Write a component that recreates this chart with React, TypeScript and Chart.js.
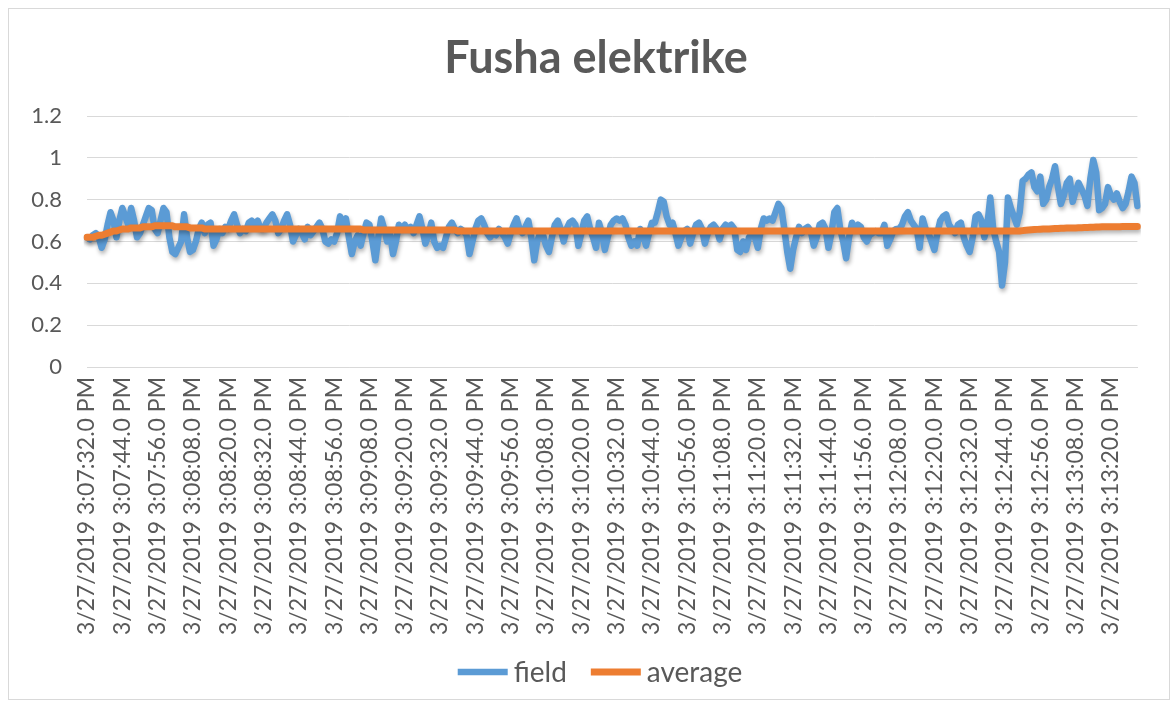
import React, { useEffect, useRef } from "react";
import { Chart, registerables } from "chart.js";

Chart.register(...registerables);

const chartTitle = "Fusha elektrike";

const tickLabels = [
  "3/27/2019 3:07:32.0 PM", "3/27/2019 3:07:44.0 PM", "3/27/2019 3:07:56.0 PM",
  "3/27/2019 3:08:08.0 PM", "3/27/2019 3:08:20.0 PM", "3/27/2019 3:08:32.0 PM",
  "3/27/2019 3:08:44.0 PM", "3/27/2019 3:08:56.0 PM", "3/27/2019 3:09:08.0 PM",
  "3/27/2019 3:09:20.0 PM", "3/27/2019 3:09:32.0 PM", "3/27/2019 3:09:44.0 PM",
  "3/27/2019 3:09:56.0 PM", "3/27/2019 3:10:08.0 PM", "3/27/2019 3:10:20.0 PM",
  "3/27/2019 3:10:32.0 PM", "3/27/2019 3:10:44.0 PM", "3/27/2019 3:10:56.0 PM",
  "3/27/2019 3:11:08.0 PM", "3/27/2019 3:11:20.0 PM", "3/27/2019 3:11:32.0 PM",
  "3/27/2019 3:11:44.0 PM", "3/27/2019 3:11:56.0 PM", "3/27/2019 3:12:08.0 PM",
  "3/27/2019 3:12:20.0 PM", "3/27/2019 3:12:32.0 PM", "3/27/2019 3:12:44.0 PM",
  "3/27/2019 3:12:56.0 PM", "3/27/2019 3:13:08.0 PM", "3/27/2019 3:13:20.0 PM",
];

const labelEvery = 12;

const fieldValues = [
  0.62, 0.61, 0.63, 0.64, 0.62, 0.57, 0.61, 0.68, 0.74, 0.70, 0.62, 0.70,
  0.76, 0.72, 0.68, 0.76, 0.70, 0.62, 0.64, 0.68, 0.72, 0.76, 0.75, 0.66,
  0.64, 0.70, 0.76, 0.74, 0.62, 0.55, 0.54, 0.57, 0.60, 0.73, 0.62, 0.55,
  0.56, 0.60, 0.66, 0.69, 0.64, 0.68, 0.69, 0.58, 0.61, 0.66, 0.64, 0.67,
  0.66, 0.70, 0.73, 0.68, 0.64, 0.66, 0.65, 0.69, 0.70, 0.68, 0.70, 0.66,
  0.66, 0.69, 0.71, 0.73, 0.70, 0.64, 0.66, 0.70, 0.73, 0.68, 0.60, 0.63,
  0.66, 0.64, 0.61, 0.67, 0.63, 0.65, 0.67, 0.69, 0.66, 0.60, 0.59, 0.61,
  0.60, 0.64, 0.72, 0.68, 0.71, 0.62, 0.54, 0.60, 0.63, 0.58, 0.64, 0.69,
  0.68, 0.60, 0.51, 0.62, 0.71, 0.66, 0.60, 0.64, 0.54, 0.60, 0.68, 0.66,
  0.68, 0.66, 0.67, 0.64, 0.68, 0.72, 0.66, 0.59, 0.63, 0.69, 0.60, 0.57,
  0.58, 0.57, 0.62, 0.67, 0.69, 0.66, 0.64, 0.66, 0.65, 0.63, 0.54, 0.60,
  0.66, 0.70, 0.71, 0.68, 0.64, 0.62, 0.64, 0.63, 0.66, 0.64, 0.62, 0.59,
  0.64, 0.68, 0.71, 0.66, 0.64, 0.67, 0.70, 0.62, 0.51, 0.60, 0.64, 0.63,
  0.58, 0.55, 0.62, 0.68, 0.70, 0.66, 0.60, 0.66, 0.69, 0.70, 0.68, 0.58,
  0.64, 0.70, 0.72, 0.66, 0.62, 0.57, 0.69, 0.64, 0.56, 0.62, 0.68, 0.70,
  0.71, 0.70, 0.71, 0.68, 0.62, 0.58, 0.60, 0.58, 0.66, 0.63, 0.58, 0.64,
  0.69, 0.69, 0.74, 0.80, 0.79, 0.72, 0.68, 0.69, 0.64, 0.58, 0.62, 0.65,
  0.66, 0.59, 0.64, 0.68, 0.69, 0.66, 0.59, 0.64, 0.67, 0.68, 0.66, 0.61,
  0.66, 0.68, 0.67, 0.68, 0.66, 0.56, 0.55, 0.60, 0.56, 0.62, 0.64, 0.62,
  0.57, 0.66, 0.71, 0.70, 0.71, 0.70, 0.74, 0.78, 0.76, 0.66, 0.55, 0.47,
  0.56, 0.62, 0.67, 0.64, 0.66, 0.67, 0.65, 0.58, 0.62, 0.68, 0.69, 0.66,
  0.57, 0.64, 0.74, 0.76, 0.66, 0.60, 0.52, 0.62, 0.69, 0.66, 0.68, 0.67,
  0.62, 0.60, 0.63, 0.64, 0.65, 0.64, 0.64, 0.68, 0.58, 0.61, 0.65, 0.66,
  0.66, 0.68, 0.72, 0.74, 0.70, 0.68, 0.66, 0.57, 0.71, 0.66, 0.64, 0.60,
  0.56, 0.64, 0.70, 0.72, 0.73, 0.68, 0.66, 0.64, 0.68, 0.69, 0.62, 0.58,
  0.55, 0.62, 0.72, 0.73, 0.70, 0.62, 0.68, 0.81, 0.66, 0.60, 0.55, 0.39,
  0.50, 0.81, 0.76, 0.72, 0.68, 0.74, 0.89, 0.90, 0.92, 0.93, 0.86, 0.84,
  0.91, 0.78, 0.80, 0.86, 0.90, 0.96, 0.86, 0.78, 0.82, 0.88, 0.90, 0.79,
  0.84, 0.88, 0.85, 0.82, 0.77, 0.90, 0.99, 0.93, 0.75, 0.76, 0.78, 0.86,
  0.82, 0.80, 0.83, 0.79, 0.76, 0.78, 0.84, 0.91, 0.88, 0.77,
];

const averageValues = [
  0.62, 0.62, 0.62, 0.625, 0.63, 0.63, 0.635, 0.64, 0.645, 0.65, 0.65, 0.655,
  0.66, 0.66, 0.66, 0.665, 0.665, 0.665, 0.665, 0.67, 0.67, 0.67, 0.67, 0.675,
  0.675, 0.675, 0.675, 0.675, 0.675, 0.675, 0.67, 0.67, 0.67, 0.67, 0.67, 0.665,
  0.665, 0.665, 0.665, 0.665, 0.66, 0.66, 0.66, 0.66, 0.66, 0.66, 0.66, 0.66,
  0.66, 0.66, 0.66, 0.66, 0.66, 0.66, 0.66, 0.66, 0.66, 0.66, 0.66, 0.66,
  0.66, 0.66, 0.66, 0.66, 0.66, 0.66, 0.66, 0.66, 0.66, 0.66, 0.66, 0.66,
  0.66, 0.66, 0.66, 0.66, 0.66, 0.66, 0.66, 0.66, 0.66, 0.66, 0.66, 0.66,
  0.66, 0.66, 0.66, 0.66, 0.66, 0.66, 0.66, 0.66, 0.66, 0.66, 0.655, 0.655,
  0.655, 0.655, 0.655, 0.655, 0.655, 0.655, 0.655, 0.655, 0.655, 0.655, 0.655, 0.655,
  0.655, 0.655, 0.655, 0.655, 0.655, 0.655, 0.655, 0.655, 0.655, 0.655, 0.655, 0.655,
  0.655, 0.655, 0.655, 0.655, 0.655, 0.655, 0.65, 0.65, 0.65, 0.65, 0.65, 0.65,
  0.65, 0.65, 0.65, 0.65, 0.65, 0.65, 0.65, 0.65, 0.65, 0.65, 0.65, 0.65,
  0.65, 0.65, 0.65, 0.65, 0.65, 0.65, 0.65, 0.65, 0.65, 0.65, 0.65, 0.65,
  0.65, 0.65, 0.65, 0.65, 0.65, 0.65, 0.65, 0.65, 0.65, 0.65, 0.65, 0.65,
  0.65, 0.65, 0.65, 0.65, 0.65, 0.65, 0.65, 0.65, 0.65, 0.65, 0.65, 0.65,
  0.65, 0.65, 0.65, 0.65, 0.65, 0.65, 0.65, 0.65, 0.65, 0.65, 0.65, 0.65,
  0.65, 0.65, 0.65, 0.65, 0.65, 0.65, 0.65, 0.65, 0.65, 0.65, 0.65, 0.65,
  0.65, 0.65, 0.65, 0.65, 0.65, 0.65, 0.65, 0.65, 0.65, 0.65, 0.65, 0.65,
  0.65, 0.65, 0.65, 0.65, 0.65, 0.65, 0.65, 0.65, 0.65, 0.65, 0.65, 0.65,
  0.65, 0.65, 0.65, 0.65, 0.65, 0.65, 0.65, 0.65, 0.65, 0.65, 0.65, 0.65,
  0.65, 0.65, 0.65, 0.65, 0.65, 0.65, 0.65, 0.65, 0.65, 0.65, 0.65, 0.65,
  0.65, 0.65, 0.65, 0.65, 0.65, 0.65, 0.65, 0.65, 0.65, 0.65, 0.65, 0.65,
  0.65, 0.65, 0.65, 0.65, 0.65, 0.65, 0.65, 0.65, 0.65, 0.65, 0.65, 0.65,
  0.65, 0.65, 0.65, 0.65, 0.65, 0.65, 0.65, 0.65, 0.65, 0.65, 0.65, 0.65,
  0.65, 0.65, 0.65, 0.65, 0.65, 0.65, 0.65, 0.65, 0.65, 0.65, 0.65, 0.65,
  0.65, 0.65, 0.65, 0.65, 0.65, 0.65, 0.65, 0.65, 0.65, 0.65, 0.65, 0.65,
  0.65, 0.65, 0.65, 0.65, 0.65, 0.65, 0.652, 0.654, 0.655, 0.656, 0.657, 0.658,
  0.659, 0.66, 0.66, 0.66, 0.661, 0.662, 0.662, 0.663, 0.663, 0.664, 0.664, 0.665,
  0.665, 0.666, 0.666, 0.667, 0.667, 0.668, 0.668, 0.669, 0.669, 0.67, 0.67, 0.67,
  0.67, 0.671, 0.671, 0.671, 0.672, 0.672, 0.672, 0.672, 0.672, 0.672,
];

const yTicks = [0, 0.2, 0.4, 0.6, 0.8, 1, 1.2];

const FONT = "Lato";
const TEXT = "#595959";
const GRID = "#d9d9d9";

const shadowPlugin = {
  id: "lineShadow",
  beforeDatasetDraw(chart: any) {
    const ctx = chart.ctx;
    ctx.save();
    ctx.shadowColor = "rgba(0,0,0,0.3)";
    ctx.shadowBlur = 4;
    ctx.shadowOffsetX = 1;
    ctx.shadowOffsetY = 3;
  },
  afterDatasetDraw(chart: any) {
    chart.ctx.restore();
  },
};

// Excel-style title and legend, placed like the original sheet chart
const titleLegendPlugin = {
  id: "excelTitleLegend",
  afterDraw(chart: any) {
    const ctx = chart.ctx;
    ctx.save();
    ctx.fillStyle = TEXT;
    ctx.textBaseline = "middle";
    ctx.textAlign = "center";
    ctx.font = `bold 45px ${FONT}`;
    ctx.fillText(chartTitle, 596, 58);

    const lineLen = 50;
    const textGap = 6;
    const itemGap = 24;
    const legendY = 672;
    ctx.font = `28px ${FONT}`;
    const items = chart.data.datasets.map((ds: any) => ({
      label: ds.label,
      color: ds.borderColor,
      width: ds.borderWidth,
      textW: ctx.measureText(ds.label).width,
    }));
    const total =
      items.reduce((s: number, it: any) => s + lineLen + textGap + it.textW, 0) +
      itemGap * (items.length - 1);
    let x = 600 - total / 2;
    ctx.textAlign = "left";
    items.forEach((it: any) => {
      ctx.strokeStyle = it.color;
      ctx.lineWidth = it.width;
      ctx.lineCap = "butt";
      ctx.beginPath();
      ctx.moveTo(x, legendY);
      ctx.lineTo(x + lineLen, legendY);
      ctx.stroke();
      ctx.fillText(it.label, x + lineLen + textGap, legendY + 1);
      x += lineLen + textGap + it.textW + itemGap;
    });
    ctx.restore();
  },
};

export default function App() {
  const ref = useRef<HTMLCanvasElement | null>(null);

  useEffect(() => {
    if (!ref.current) return;
    const categories = fieldValues.map((_, i) =>
      i % labelEvery === 0 ? tickLabels[i / labelEvery] ?? "" : ""
    );
    const chart = new Chart(ref.current, {
      type: "line",
      data: {
        labels: categories,
        datasets: [
          {
            label: "field",
            data: fieldValues,
            borderColor: "#5B9BD5",
            backgroundColor: "#5B9BD5",
            borderWidth: 6.5,
            pointRadius: 0,
            tension: 0,
            borderJoinStyle: "round",
            borderCapStyle: "round",
            order: 1,
          },
          {
            label: "average",
            data: averageValues,
            borderColor: "#ED7D31",
            backgroundColor: "#ED7D31",
            borderWidth: 7,
            pointRadius: 0,
            tension: 0,
            borderJoinStyle: "round",
            borderCapStyle: "round",
            order: 0,
          },
        ],
      },
      options: {
        responsive: false,
        animation: false,
        devicePixelRatio: 1,
        layout: { padding: { left: 0, right: 22, top: 116, bottom: 55 } },
        plugins: {
          title: { display: false },
          legend: { display: false },
          tooltip: { enabled: false },
        },
        scales: {
          x: {
            type: "category",
            offset: false,
            grid: { display: false, drawTicks: false },
            border: { display: true, color: GRID, width: 1 },
            ticks: {
              autoSkip: false,
              maxRotation: 90,
              minRotation: 90,
              padding: 10,
              color: TEXT,
              font: { family: FONT, size: 23 },
            },
            afterFit: (scale: any) => {
              scale.height = 286;
            },
          },
          y: {
            min: 0,
            max: 1.2,
            afterBuildTicks: (scale: any) => {
              scale.ticks = yTicks.map((v) => ({ value: v }));
            },
            grid: { color: GRID, lineWidth: 1, drawTicks: false },
            border: { display: false },
            ticks: {
              padding: 25,
              color: TEXT,
              font: { family: FONT, size: 22 },
              callback: (v: any) => String(Math.round(Number(v) * 10) / 10),
            },
            afterFit: (scale: any) => {
              scale.width = 87;
            },
          },
        },
      },
      plugins: [shadowPlugin, titleLegendPlugin],
    });
    return () => chart.destroy();
  }, []);

  return (
    <div
      style={{
        position: "absolute",
        left: 0,
        top: 0,
        width: 1175,
        height: 708,
        background: "#ffffff",
      }}
    >
      <canvas ref={ref} width={1175} height={708} style={{ display: "block" }} />
      <div
        style={{
          position: "absolute",
          left: 8,
          top: 8,
          width: 1160,
          height: 690,
          border: "1px solid #d9d9d9",
          pointerEvents: "none",
        }}
      />
    </div>
  );
}
